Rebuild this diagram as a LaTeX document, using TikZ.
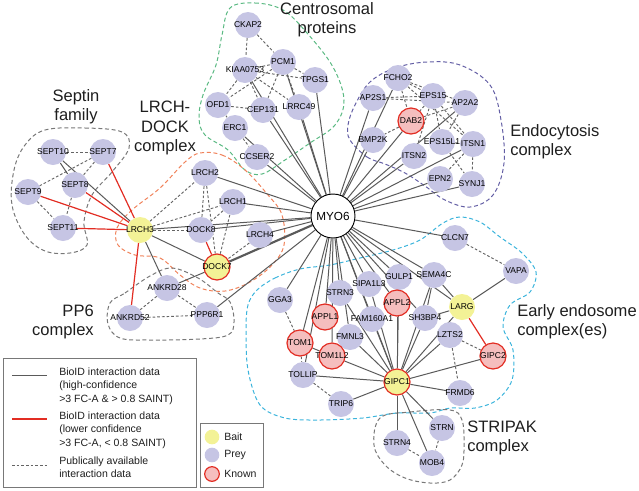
\documentclass[tikz,border=0pt]{standalone}
\usepackage{fontspec}
\setmainfont{Liberation Sans}
\definecolor{preyc}{RGB}{198,197,228}
\definecolor{baitc}{RGB}{243,242,150}
\definecolor{knownc}{RGB}{245,190,190}
\definecolor{redc}{RGB}{226,45,35}
\definecolor{edgec}{RGB}{90,90,90}
\definecolor{dashc}{RGB}{100,100,100}
\definecolor{textc}{RGB}{30,30,30}
\definecolor{greenb}{RGB}{90,185,130}
\definecolor{purpb}{RGB}{100,95,165}
\definecolor{orangeb}{RGB}{240,130,90}
\definecolor{cyanb}{RGB}{60,180,220}
\definecolor{grayb}{RGB}{120,120,120}
\pgfdeclarelayer{bgl}
\pgfdeclarelayer{edg}
\pgfsetlayers{bgl,edg,main}
\tikzset{
 nd/.style={circle, minimum size=19.5pt, inner sep=0pt, font=\fontsize{6.4}{7}\selectfont, text=black,
   execute at begin node={\hbox to 0pt\bgroup\hss}, execute at end node={\hss\egroup}},
 prey/.style={nd, fill=preyc},
 bait/.style={nd, fill=baitc},
 known/.style={nd, fill=knownc, draw=redc, line width=0.9pt},
 baitk/.style={nd, fill=baitc, draw=redc, line width=0.9pt},
 hub/.style={circle, draw=black, fill=white, line width=0.7pt, minimum size=33pt, inner sep=0pt, font=\fontsize{8.8}{10}\selectfont},
 se/.style={draw=edgec, line width=0.75pt},
 re/.style={draw=redc, line width=0.9pt},
 de/.style={draw=dashc, line width=0.7pt, dash pattern=on 2pt off 1.5pt},
 grp/.style={dash pattern=on 3pt off 2pt, line width=0.75pt},
 glab/.style={font=\fontsize{12.4}{14.5}\selectfont, text=textc},
 ltext/.style={font=\fontsize{7.9}{10.1}\selectfont, text=textc, align=left, anchor=west, inner sep=0pt},
 lbox/.style={draw=grayb, line width=0.7pt},
 lsym/.style={circle, minimum size=11pt, inner sep=0pt},
}
\begin{document}
\begin{tikzpicture}[x=0.75pt,y=-0.75pt]
\useasboundingbox (0,0) rectangle (639,490);

% hub
\node[hub] (MYO6) at (333,216) {MYO6};
% centrosomal
\node[prey] (CKAP2) at (248,25) {CKAP2};
\node[prey] (PCM1) at (283,62) {PCM1};
\node[prey] (KIAA0753) at (245,70) {KIAA0753};
\node[prey] (TPGS1) at (315,80) {TPGS1};
\node[prey] (OFD1) at (218,105) {OFD1};
\node[prey] (CEP131) at (263,110) {CEP131};
\node[prey] (LRRC49) at (299,107) {LRRC49};
\node[prey] (ERC1) at (235,128) {ERC1};
\node[prey] (CCSER2) at (257,157) {CCSER2};
% endocytosis
\node[prey] (FCHO2) at (398,78) {FCHO2};
\node[prey] (AP2S1) at (373,98) {AP2S1};
\node[prey] (EPS15) at (433,96) {EPS15};
\node[prey] (AP2A2) at (465,103) {AP2A2};
\node[known] (DAB2) at (411,121) {DAB2};
\node[prey] (BMP2K) at (373,140) {BMP2K};
\node[prey] (EPS15L1) at (442,142) {EPS15L1};
\node[prey] (ITSN1) at (473,144) {ITSN1};
\node[prey] (ITSN2) at (414,156) {ITSN2};
\node[prey] (EPN2) at (440,179) {EPN2};
\node[prey] (SYNJ1) at (472,184) {SYNJ1};
% septin
\node[prey] (SEPT10) at (53,152) {SEPT10};
\node[prey] (SEPT7) at (103,152) {SEPT7};
\node[prey] (SEPT8) at (75,185) {SEPT8};
\node[prey] (SEPT9) at (28,192) {SEPT9};
\node[prey] (SEPT11) at (63,228) {SEPT11};
\node[bait] (LRCH3) at (140,230) {LRCH3};
% LRCH-DOCK
\node[prey] (LRCH2) at (205,173) {LRCH2};
\node[prey] (LRCH1) at (233,202) {LRCH1};
\node[prey] (DOCK8) at (201,230) {DOCK8};
\node[prey] (LRCH4) at (260,235) {LRCH4};
\node[baitk] (DOCK7) at (217,267) {DOCK7};
% PP6
\node[prey] (ANKRD28) at (167,288) {ANKRD28};
\node[prey] (ANKRD52) at (130,318) {ANKRD52};
\node[prey] (PPP6R1) at (207,315) {PPP6R1};
% early endosome
\node[prey] (CLCN7) at (455,238) {CLCN7};
\node[prey] (VAPA) at (516,271) {VAPA};
\node[prey] (SEMA4C) at (434,275) {SEMA4C};
\node[prey] (GULP1) at (399,277) {GULP1};
\node[prey] (SIPA1L3) at (369,284) {SIPA1L3};
\node[prey] (STRN3) at (340,293) {STRN3};
\node[prey] (GGA3) at (280,300) {GGA3};
\node[known] (APPL2) at (397,303) {APPL2};
\node[bait] (LARG) at (462,307) {LARG};
\node[known] (APPL1) at (325,317) {APPL1};
\node[prey] (FAM160A1) at (372,319) {FAM160A1};
\node[prey] (SH3BP4) at (425,318) {SH3BP4};
\node[prey] (LZTS2) at (450,335) {LZTS2};
\node[prey] (FMNL3) at (350,337) {FMNL3};
\node[known] (TOM1) at (300,343) {TOM1};
\node[known] (GIPC2) at (493,356) {GIPC2};
\node[known] (TOM1L2) at (332,356) {TOM1L2};
\node[prey] (TOLLIP) at (303,375) {TOLLIP};
\node[baitk] (GIPC1) at (397,382) {GIPC1};
\node[prey] (FRMD6) at (460,393) {FRMD6};
\node[prey] (TRIP6) at (341,404) {TRIP6};
% STRIPAK
\node[prey] (STRN) at (442,428) {STRN};
\node[prey] (STRN4) at (397,443) {STRN4};
\node[prey] (MOB4) at (432,463) {MOB4};

% group labels
\node[glab, align=center] (tcent) at (327,20) {Centrosomal\\proteins};
\node[glab, align=center] (tsept) at (76,107) {Septin\\family};
\node[glab, align=center] (tlrch) at (165,128) {LRCH-\\DOCK\\complex};
\node[glab, align=left, anchor=west, inner sep=0pt] (tendo) at (510,142) {Endocytosis\\complex};
\node[glab, align=right, anchor=east, inner sep=0pt] (tpp6) at (94,322) {PP6\\complex};
\node[glab, align=left, anchor=west, inner sep=0pt] (tearly) at (517,322) {Early endosome\\complex(es)};
\node[glab, align=left, anchor=west, inner sep=0pt] (tstrip) at (467,438) {STRIPAK\\complex};

% group boundaries
\begin{pgfonlayer}{bgl}
\draw[grp, greenb] plot[smooth cycle, tension=0.6] coordinates {(230,8) (255,3) (283,10) (307,33) (333,67) (344,100) (335,125) (310,143) (285,160) (262,174) (245,170) (228,150) (205,135) (199,118) (203,95) (216,65) (222,35)};
\draw[grp, purpb] plot[smooth cycle, tension=0.6] coordinates {(350,140) (367,157) (385,164) (405,173) (425,186) (445,200) (470,207) (493,195) (504,163) (501,120) (490,85) (460,65) (427,62) (395,68) (370,82) (355,105) (348,125)};
\draw[grp, grayb] plot[smooth cycle, tension=0.6] coordinates {(45,130) (85,128) (122,132) (129,148) (112,172) (92,195) (84,222) (87,245) (70,253) (45,251) (25,235) (12,205) (14,170) (25,145)};
\draw[grp, orangeb] plot[smooth cycle, tension=0.6] coordinates {(200,153) (222,155) (245,170) (268,195) (282,215) (284,245) (272,265) (250,282) (225,291) (200,288) (180,275) (160,258) (135,255) (118,245) (117,228) (132,210) (160,188) (185,162)};
\draw[grp, grayb] plot[smooth cycle, tension=0.6] coordinates {(110,303) (125,293) (150,276) (172,268) (198,278) (218,293) (230,302) (234,322) (228,335) (200,339) (150,340) (120,338) (108,324)};
\draw[grp, cyanb] plot[smooth cycle, tension=0.55] coordinates {(257,290) (275,278) (300,269) (330,265) (360,258) (393,250) (420,240) (443,223) (460,217) (480,222) (500,237) (522,253) (536,272) (530,292) (510,305) (503,327) (513,350) (512,380) (497,400) (475,408) (450,408) (430,413) (397,413) (363,418) (320,420) (285,418) (260,405) (248,370) (246,330) (248,305)};
\draw[grp, grayb] plot[smooth cycle, tension=0.6] coordinates {(380,418) (410,412) (450,410) (462,420) (464,445) (462,465) (450,480) (430,483) (405,478) (385,465) (374,445)};
\end{pgfonlayer}

\begin{pgfonlayer}{edg}
% MYO6 spokes
\foreach \b in {KIAA0753,PCM1,TPGS1,LRRC49,CEP131,ERC1,CCSER2,FCHO2,AP2S1,BMP2K,DAB2,AP2A2,ITSN2,ITSN1,EPN2,SYNJ1,LRCH2,LRCH1,DOCK8,LRCH4,LRCH3,PPP6R1,CLCN7,SEMA4C,GULP1,LARG,SIPA1L3,APPL2,STRN3,GGA3,APPL1,FAM160A1,SH3BP4,FMNL3,TOM1,TOM1L2,TOLLIP,GIPC1}
  \draw[se] (MYO6) -- (\b);
\draw[edgec, line width=1.6pt] (MYO6) -- (DOCK7);
% GIPC1 hub
\foreach \b in {APPL2,FAM160A1,FMNL3,TOM1L2,TOLLIP,TRIP6,FRMD6,GIPC2,LZTS2,SH3BP4,LARG,SEMA4C,STRN3,SIPA1L3,GULP1,STRN,STRN4,MOB4}
  \draw[se] (GIPC1) -- (\b);
% other solid
\foreach \a/\b in {LARG/VAPA,LARG/SEMA4C,LARG/SH3BP4,TOM1/TOM1L2,SEMA4C/SH3BP4,SEPT10/SEPT8,SEPT10/LRCH3,LRCH3/DOCK7,LRCH3/ANKRD28,DOCK7/ANKRD28}
  \draw[se] (\a) -- (\b);
% red
\foreach \a/\b in {LRCH3/SEPT7,LRCH3/SEPT8,LRCH3/SEPT9,LRCH3/SEPT11,LRCH3/ANKRD52,DOCK8/DOCK7,LARG/GIPC2}
  \draw[re] (\a) -- (\b);
% dashed
\foreach \a/\b in {CKAP2/KIAA0753,CKAP2/PCM1,KIAA0753/PCM1,PCM1/TPGS1,KIAA0753/TPGS1,KIAA0753/OFD1,KIAA0753/CEP131,KIAA0753/LRRC49,PCM1/OFD1,PCM1/CEP131,PCM1/LRRC49,OFD1/CEP131,OFD1/ERC1,ERC1/CCSER2,
  AP2S1/EPS15,AP2S1/AP2A2,FCHO2/EPS15,FCHO2/AP2A2,FCHO2/DAB2,FCHO2/ITSN1,EPS15/DAB2,EPS15/EPS15L1,EPS15/ITSN1,EPS15/ITSN2,AP2A2/DAB2,AP2A2/EPS15L1,DAB2/BMP2K,EPS15L1/ITSN1,ITSN1/SYNJ1,ITSN1/EPN2,EPS15L1/SYNJ1,
  SEPT10/SEPT7,SEPT7/SEPT8,SEPT7/SEPT9,SEPT9/SEPT11,SEPT8/SEPT11,
  LRCH3/LRCH2,LRCH3/LRCH1,LRCH3/DOCK8,LRCH2/DOCK8,LRCH2/DOCK7,LRCH1/DOCK8,LRCH1/DOCK7,LRCH4/DOCK7,
  ANKRD28/ANKRD52,ANKRD28/PPP6R1,ANKRD52/PPP6R1,
  GGA3/TOM1,TOM1/TOLLIP,TOLLIP/TRIP6,LZTS2/GIPC2,LZTS2/FRMD6,CLCN7/VAPA,
  STRN4/MOB4,STRN/MOB4}
  \draw[de] (\a) -- (\b);
\end{pgfonlayer}

% legend 1
\node[lbox, minimum width=144.75pt, minimum height=96.75pt, anchor=north west, inner sep=0pt] (leg1) at (3,358) {};
\coordinate (s1a) at (12,375); \coordinate (s1b) at (47,375);
\coordinate (s2a) at (12,419); \coordinate (s2b) at (47,419);
\coordinate (s3a) at (12,465); \coordinate (s3b) at (47,465);
\draw[se] (s1a) -- (s1b);
\draw[re, line width=1.1pt] (s2a) -- (s2b);
\draw[de] (s3a) -- (s3b);
\node[ltext] (l1) at (59,386) {BioID interaction data\\(high-confidence\\>3 FC-A \& > 0.8 SAINT)};
\node[ltext] (l2) at (59,430) {BioID interaction data\\(lower confidence\\>3 FC-A, < 0.8 SAINT)};
\node[ltext] (l3) at (59,467) {Publically available\\interaction data};
% legend 2
\node[lbox, minimum width=47.25pt, minimum height=48pt, anchor=north west, inner sep=0pt] (leg2) at (200,423) {};
\node[lsym, fill=baitc] (kb) at (212,437) {};
\node[lsym, fill=preyc] (kp) at (212,455) {};
\node[lsym, fill=knownc, draw=redc, line width=0.9pt] (kk) at (212,474) {};
\node[ltext] (lb) at (224,437) {Bait};
\node[ltext] (lp) at (224,455) {Prey};
\node[ltext] (lk) at (224,474) {Known};
\end{tikzpicture}
\end{document}
